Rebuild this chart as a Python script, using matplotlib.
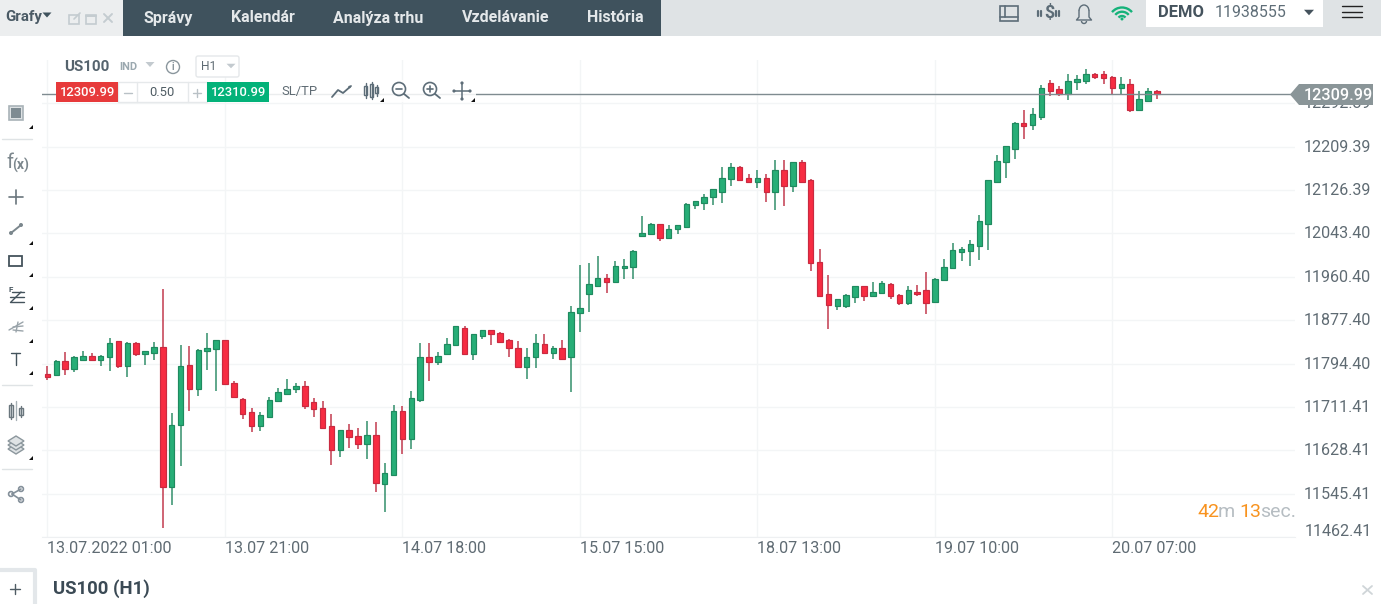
import numpy as np
import matplotlib
matplotlib.use("Agg")
import matplotlib.pyplot as plt
from matplotlib.patches import Rectangle, Polygon, Circle, Arc, FancyBboxPatch
from matplotlib.transforms import ScaledTranslation

plt.rcParams['font.family'] = ['Roboto', 'DejaVu Sans']

# hourly US100 candles
opens = [11774, 11772, 11799, 11784, 11802, 11808, 11802, 11806, 11837, 11790,
         11834, 11813, 11815, 11827, 11559, 11676, 11792, 11746, 11818, 11822,
         11839, 11758, 11727, 11701, 11674, 11693, 11722, 11736, 11746, 11751,
         11720, 11710, 11674, 11628, 11667, 11656, 11641, 11658, 11564, 11581,
         11703, 11650, 11724, 11806, 11798, 11813, 11829, 11863, 11813, 11848,
         11858, 11853, 11839, 11825, 11788, 11806, 11832, 11815, 11825, 11806,
         11891, 11927, 11943, 11959, 11951, 11977, 11980, 12039, 12042, 12062,
         12034, 12051, 12055, 12097, 12101, 12113, 12123, 12147, 12171, 12149,
         12142, 12149, 12123, 12164, 12134, 12180, 12145, 11989, 11927, 11905,
         11905, 11922, 11942, 11924, 11929, 11947, 11925, 11910, 11932, 11935,
         11912, 11954, 11977, 12008, 12010, 12020, 12062, 12142, 12180, 12206,
         12255, 12251, 12266, 12331, 12319, 12311, 12333, 12335, 12348, 12348,
         12343, 12321, 12329, 12280, 12297, 12317]
closes = [11769, 11799, 11784, 11806, 11808, 11802, 11808, 11834, 11790, 11834,
          11813, 11818, 11827, 11559, 11677, 11789, 11746, 11820, 11825, 11839,
          11755, 11731, 11698, 11674, 11696, 11725, 11739, 11746, 11751, 11714,
          11707, 11671, 11628, 11667, 11653, 11641, 11658, 11566, 11584, 11703,
          11650, 11729, 11806, 11798, 11808, 11832, 11866, 11813, 11851, 11859,
          11851, 11836, 11825, 11788, 11806, 11834, 11815, 11825, 11803, 11894,
          11901, 11946, 11959, 11951, 11982, 11982, 12009, 12045, 12061, 12034,
          12052, 12059, 12099, 12105, 12113, 12128, 12150, 12171, 12146, 12142,
          12150, 12123, 12164, 12134, 12180, 12142, 11987, 11924, 11906, 11918,
          11925, 11942, 11924, 11932, 11948, 11924, 11910, 11935, 11927, 11910,
          11957, 11980, 12011, 12014, 12024, 12068, 12145, 12183, 12210, 12255,
          12249, 12272, 12322, 12316, 12311, 12336, 12339, 12348, 12342, 12340,
          12321, 12329, 12280, 12300, 12317, 12310]
highs = [11790, 11802, 11816, 11809, 11819, 11814, 11811, 11843, 11837, 11835,
         11835, 11819, 11836, 11938, 11699, 11830, 11828, 11822, 11852, 11839,
         11839, 11761, 11728, 11709, 11701, 11730, 11748, 11764, 11758, 11761,
         11728, 11723, 11697, 11667, 11678, 11671, 11685, 11682, 11605, 11716,
         11713, 11741, 11833, 11833, 11816, 11843, 11866, 11866, 11851, 11859,
         11859, 11854, 11842, 11837, 11825, 11851, 11850, 11828, 11839, 11904,
         11983, 11986, 12000, 11966, 11990, 11995, 12012, 12076, 12064, 12062,
         12059, 12059, 12102, 12106, 12119, 12129, 12170, 12179, 12172, 12157,
         12164, 12157, 12184, 12184, 12181, 12184, 12148, 12014, 11964, 11918,
         11927, 11943, 11943, 11950, 11952, 11949, 11928, 11943, 11945, 11969,
         11959, 11994, 12026, 12017, 12031, 12078, 12145, 12193, 12210, 12256,
         12279, 12284, 12327, 12337, 12325, 12349, 12346, 12358, 12351, 12354,
         12344, 12342, 12339, 12316, 12322, 12318]
lows = [11762, 11772, 11773, 11778, 11800, 11800, 11790, 11781, 11785, 11769,
        11809, 11792, 11802, 11479, 11523, 11599, 11704, 11732, 11783, 11741,
        11755, 11728, 11688, 11663, 11666, 11690, 11720, 11736, 11738, 11708,
        11693, 11669, 11601, 11616, 11632, 11630, 11611, 11549, 11510, 11581,
        11621, 11630, 11721, 11761, 11792, 11810, 11829, 11810, 11802, 11842,
        11829, 11833, 11807, 11788, 11764, 11785, 11814, 11804, 11802, 11740,
        11855, 11893, 11941, 11929, 11951, 11957, 11957, 12039, 12041, 12029,
        12034, 12043, 12055, 12091, 12089, 12098, 12101, 12134, 12144, 12141,
        12131, 12103, 12088, 12096, 12122, 12141, 11972, 11922, 11860, 11897,
        11900, 11910, 11915, 11922, 11929, 11917, 11907, 11907, 11924, 11890,
        11912, 11952, 11976, 11990, 11981, 11993, 12012, 12142, 12150, 12186,
        12224, 12241, 12260, 12306, 12306, 12298, 12318, 12329, 12339, 12330,
        12309, 12310, 12275, 12277, 12296, 12301]

price_ticks = [11462.41, 11545.41, 11628.41, 11711.41, 11794.40, 11877.40, 11960.40,
               12043.40, 12126.39, 12209.39, 12292.39]
time_positions = [0, 20, 40, 60, 80, 100, 120]
time_labels = ['13.07.2022 01:00', '13.07 21:00', '14.07 18:00', '15.07 15:00',
               '18.07 13:00', '19.07 10:00', '20.07 07:00']
bid_price = 12309.99
ask_price = 12310.99
nav_items = ['Správy', 'Kalendár', 'Analýza trhu', 'Vzdelávanie', 'História']

W, H = 1381, 604
TEXT = '#5f6b73'
ICON = '#5d6d78'
GREEN = '#27ae77'
GREEN_EDGE = '#1f8a5f'
RED = '#f72c42'
RED_EDGE = '#c92a40'

fig = plt.figure(figsize=(W / 100, H / 100), dpi=100, facecolor='white')

# chart area, pixels 42..1295 across and 60..537 down
ax = fig.add_axes([42 / W, (H - 537) / H, (1295 - 42) / W, (537 - 60) / H])
ax.set_xlim(-0.608, 140.57)
ax.set_ylim(11462.41, 12375.39)
ax.set_facecolor('white')
ax.yaxis.tick_right()
for s in ['top', 'left', 'right']:
    ax.spines[s].set_visible(False)
ax.spines['bottom'].set_color('#eef0f2')

ax.set_xticks(time_positions)
ax.set_xticklabels(time_labels, ha='left', fontsize=11.6, color=TEXT)
ax.set_yticks(price_ticks)
# the lowest label sits above its grid line, it is drawn by hand further down
ax.set_yticklabels([''] + ['%.2f' % p for p in price_ticks[1:]], fontsize=11.6, color=TEXT)
ax.tick_params(axis='both', length=0)
ax.tick_params(axis='x', pad=3)
ax.tick_params(axis='y', pad=6.5)
for t in ax.get_yticklabels():
    t.set_transform(t.get_transform() + ScaledTranslation(0, 0.01, fig.dpi_scale_trans))
ax.grid(True, color='#f3f5f6', lw=1)
ax.set_axisbelow(True)

x = np.arange(len(opens))
o = np.array(opens)
c = np.array(closes)
up = c >= o
ax.vlines(x, lows, highs, colors=np.where(up, '#338f6b', '#c23a4e'), lw=1.1, zorder=2)
ax.bar(x, np.abs(c - o), bottom=np.minimum(o, c), width=0.62,
       color=np.where(up, GREEN, RED), edgecolor=np.where(up, GREEN_EDGE, RED_EDGE),
       lw=0.85, zorder=3)
ax.axhline(bid_price, color='#7f8b90', lw=1, zorder=4)

# everything around the chart is drawn in pixel coordinates on top
ui = fig.add_axes([0, 0, 1, 1], zorder=5)
ui.set_xlim(0, W)
ui.set_ylim(H, 0)
ui.axis('off')
ui.patch.set_alpha(0)


def box(x0, y0, x1, y1, fc='none', ec='none', lw=1, **kw):
    ui.add_patch(Rectangle((x0, y0), x1 - x0, y1 - y0, fc=fc, ec=ec, lw=lw, **kw))


def line(xs, ys, color=ICON, lw=1.2, **kw):
    ui.plot(xs, ys, color=color, lw=lw, solid_capstyle='round', **kw)


def txt(x0, y0, s, size=16, color=TEXT, ha='left', weight='normal'):
    ui.text(x0, y0, s, fontsize=size * 0.72, color=color, ha=ha, va='center', fontweight=weight)


def tri(cx, cy, w, h, color):
    ui.add_patch(Polygon([(cx - w / 2, cy - h / 2), (cx + w / 2, cy - h / 2), (cx, cy + h / 2)],
                         fc=color, ec='none'))


def corner(cx, cy):
    ui.add_patch(Polygon([(cx + 2, cy - 2), (cx + 2, cy + 2), (cx - 2, cy + 2)], fc='#111111', ec='none'))


txt(1305, 531, '%.2f' % price_ticks[0], 16.1)

# top bar
box(0, 0, W, 36, fc='#dfe3e5')
box(0, 0, 123, 36, fc='#eceeef')
box(123, 0, 661, 36, fc='#3f525d')
txt(5, 17.5, 'Grafy', 15, '#4a5a65', weight='bold')
tri(47, 15, 9, 5, '#3f525d')
for name, px in zip(nav_items, [144, 231, 333, 462, 587]):
    txt(px, 18, name, 16, '#e4e8ea', weight='bold')
# window buttons
box(69, 14.5, 79, 23.5, ec='#c4ccd0', lw=1.2)
line([74, 80], [19, 13], '#c4ccd0', 1.2)
box(86, 14.5, 96, 23.5, ec='#c4ccd0', lw=1.2)
line([86, 96], [16, 16], '#c4ccd0', 1.4)
line([104, 112], [14, 22], '#c4ccd0', 1.4)
line([104, 112], [22, 14], '#c4ccd0', 1.4)
# right side of top bar
box(1000, 6, 1018, 21, ec=ICON, lw=1.2)
line([1000, 1018], [16.5, 16.5], ICON, 1.2)
line([1005.5, 1005.5], [6, 16.5], ICON, 1.2)
txt(1049, 13, '$', 18, ICON, ha='center', weight='bold')
for px in [1038.5, 1041.5, 1056.5, 1059.5]:
    line([px, px], [10.5, 15.5], ICON, 1.6)
ui.add_patch(Arc((1084, 11), 10, 12, theta1=180, theta2=360, ec=ICON, lw=1))
line([1079, 1079, 1076.5, 1091.5, 1089, 1089], [11, 17, 20, 20, 17, 11], ICON, 1)
ui.add_patch(Arc((1084, 21), 5, 5, theta1=0, theta2=180, ec=ICON, lw=1))
for d in [26, 17.5, 9]:
    ui.add_patch(Arc((1122, 20.5), d, d, theta1=220, theta2=320, ec='#16b27a', lw=1.7))
ui.add_patch(Circle((1122, 19), 1.5, fc='#16b27a', ec='none'))
box(1146, 0, 1323, 27, fc='white')
txt(1158, 12.5, 'DEMO', 16.5, '#45535d', weight='bold')
txt(1215, 12.5, '11938555', 16, '#5f6e78')
tri(1309, 12.5, 10, 5.5, '#45535d')
for py in [6, 11.5, 17]:
    line([1342, 1362], [py, py], '#222222', 1)

# symbol row
txt(64, 67, 'US100', 15, '#55636d', weight='bold')
txt(119, 67.5, 'IND', 11, '#9ba8af', weight='bold')
tri(150, 64.5, 9, 5, '#c3cacf')
ui.add_patch(Circle((173, 67), 6.5, fc='white', ec='#8a969d', lw=1))
txt(173, 67, 'i', 10, '#8a969d', ha='center', weight='bold')
ui.add_patch(FancyBboxPatch((196, 56), 43, 21, boxstyle='round,pad=0,rounding_size=2',
                            fc='white', ec='#e5e8ea', lw=1))
txt(201, 67, 'H1', 12, TEXT)
tri(231, 66, 9, 4.5, '#c3cacf')

# order row
box(269, 80, 476, 102, fc='white', alpha=0.85)
box(118, 82, 207, 102, fc='white', ec='#e6e9eb', lw=1)
line([137, 137], [82, 102], '#e6e9eb', 1)
line([188, 188], [82, 102], '#e6e9eb', 1)
box(56, 82, 118, 102, fc='#e73a3b')
box(207, 82, 269, 102, fc='#03b279')
txt(87.5, 92, '%.2f' % bid_price, 13, 'white', ha='center', weight='medium')
txt(238.5, 92, '%.2f' % ask_price, 13, 'white', ha='center', weight='medium')
txt(162, 93, '0.50', 13, '#4f5c64', ha='center')
line([124, 132], [92.5, 92.5], '#b9c1c6', 1)
line([193, 201], [92.5, 92.5], '#b9c1c6', 1)
line([197, 197], [88.5, 96.5], '#b9c1c6', 1)
txt(281, 91, 'SL/TP', 13, TEXT)
line([332, 338, 343, 351], [97, 90, 93, 86], ICON, 1.3)
ui.add_patch(Circle((349.5, 87), 1.3, fc=ICON, ec='none'))
for px, y0, y1, b0, b1 in [(366, 83, 98, 86, 95), (372, 82, 99, 84, 97), (377, 85, 96, 87, 93)]:
    line([px, px], [y0, y1], ICON, 1)
    box(px - 1.5, b0, px + 1.5, b1, fc='white', ec=ICON, lw=1)
for cx, plus in [(399, False), (430, True)]:
    ui.add_patch(Circle((cx, 89), 6.5, fc='none', ec=ICON, lw=1.2))
    line([cx + 4.8, cx + 10], [93.8, 98], ICON, 1.3)
    line([cx - 3, cx + 3], [89, 89], ICON, 1.2)
    if plus:
        line([cx, cx], [86, 92], ICON, 1.2)
line([454, 470], [91, 91], ICON, 1.1)
line([462, 462], [83, 99], ICON, 1.1)
for dx, dy in [(-8, 0), (8, 0), (0, -8), (0, 8)]:
    ui.add_patch(Circle((462 + dx, 91 + dy), 1.6, fc=ICON, ec='none'))
corner(382, 100)
corner(473, 100)

# side toolbar
for py in [139, 385, 469]:
    line([2, 32], [py, py], '#dfe3e5', 1)
box(9, 106, 23, 120, fc='#dde1e3', ec='#a9b3b8', lw=1.2)
box(11, 108, 21, 118, fc='#7e8b92')
txt(6, 163, 'f', 20, '#7c878d')
txt(12, 165, '(x)', 14, '#7c878d', weight='bold')
line([9, 23], [197, 197], '#6a767d', 1.2)
line([16, 16], [190, 204], '#6a767d', 1.2)
line([11, 21], [233, 225], '#7b878d', 1.4)
ui.add_patch(Circle((11, 233), 2, fc='#7b878d', ec='none'))
ui.add_patch(Circle((21, 225), 2, fc='#7b878d', ec='none'))
box(9.5, 256, 22.5, 266, ec='#44535c', lw=1.3)
txt(9, 290, 'F', 8, '#44535c', weight='bold')
line([12, 24], [292, 292], '#44535c', 1)
line([10, 24], [297, 297], '#44535c', 1)
line([10, 24], [302, 302], '#44535c', 1)
line([11, 21], [302, 292], '#44535c', 1)
line([9, 23], [330, 322], '#9aa4aa', 1)
line([13, 23], [327, 326], '#9aa4aa', 1)
line([13, 23], [330, 331], '#9aa4aa', 1)
line([16, 18], [332, 322], '#9aa4aa', 1)
line([11.5, 20.5], [353, 353], '#44535c', 1)
line([16, 16], [353, 365], '#44535c', 1)
line([16, 16], [401, 420], '#a5afb4', 1)
for px, y0, y1 in [(11, 405, 417), (21, 408, 415)]:
    line([px, px], [y0 - 2, y1 + 2], '#6a767d', 1)
    box(px - 2, y0, px + 2, y1, fc='#e3e6e8', ec='#6a767d', lw=1)
for py, fc in [(449, '#dfe3e5'), (445, '#dfe3e5'), (441, '#dfe3e5')]:
    ui.add_patch(Polygon([(8, py), (16, py - 5), (24, py), (16, py + 5)], fc=fc, ec='#8c979d', lw=1))
line([12, 21], [494, 489], '#84909a', 1.2)
line([12, 21], [494, 500], '#84909a', 1.2)
for px, py in [(11, 494), (21, 489), (21, 500)]:
    ui.add_patch(Circle((px, py), 2.4, fc='white', ec='#84909a', lw=1.2))
for py in [127, 243, 275, 308, 341, 373, 458]:
    corner(31, py)

# price tag
ui.add_patch(Polygon([(1290, 94.5), (1299, 84), (1373, 84), (1373, 105), (1299, 105)], fc='#8a9598', ec='none'))
txt(1303.5, 95, '%.2f' % bid_price, 16.2, 'white', weight='medium')

# candle countdown
txt(1197, 512, '42', 19.5, '#f8931f')
txt(1218, 512, 'm', 19.5, '#b6bdc2')
txt(1239, 512, '13', 19.5, '#f8931f')
txt(1260, 512, 'sec.', 19.5, '#b6bdc2')

# tab bar
line([0, 35, 35], [570, 570, 604], '#e3e7ea', 3)
line([10, 20], [589, 589], '#4f5c64', 1)
line([15, 15], [584, 594], '#4f5c64', 1)
txt(53, 588.5, 'US100 (H1)', 18.5, '#3b4a55', weight='bold')
line([1363, 1372], [586, 594], '#cfd5d8', 1.3)
line([1363, 1372], [594, 586], '#cfd5d8', 1.3)

fig.savefig('out.png', dpi=100, facecolor='white')
